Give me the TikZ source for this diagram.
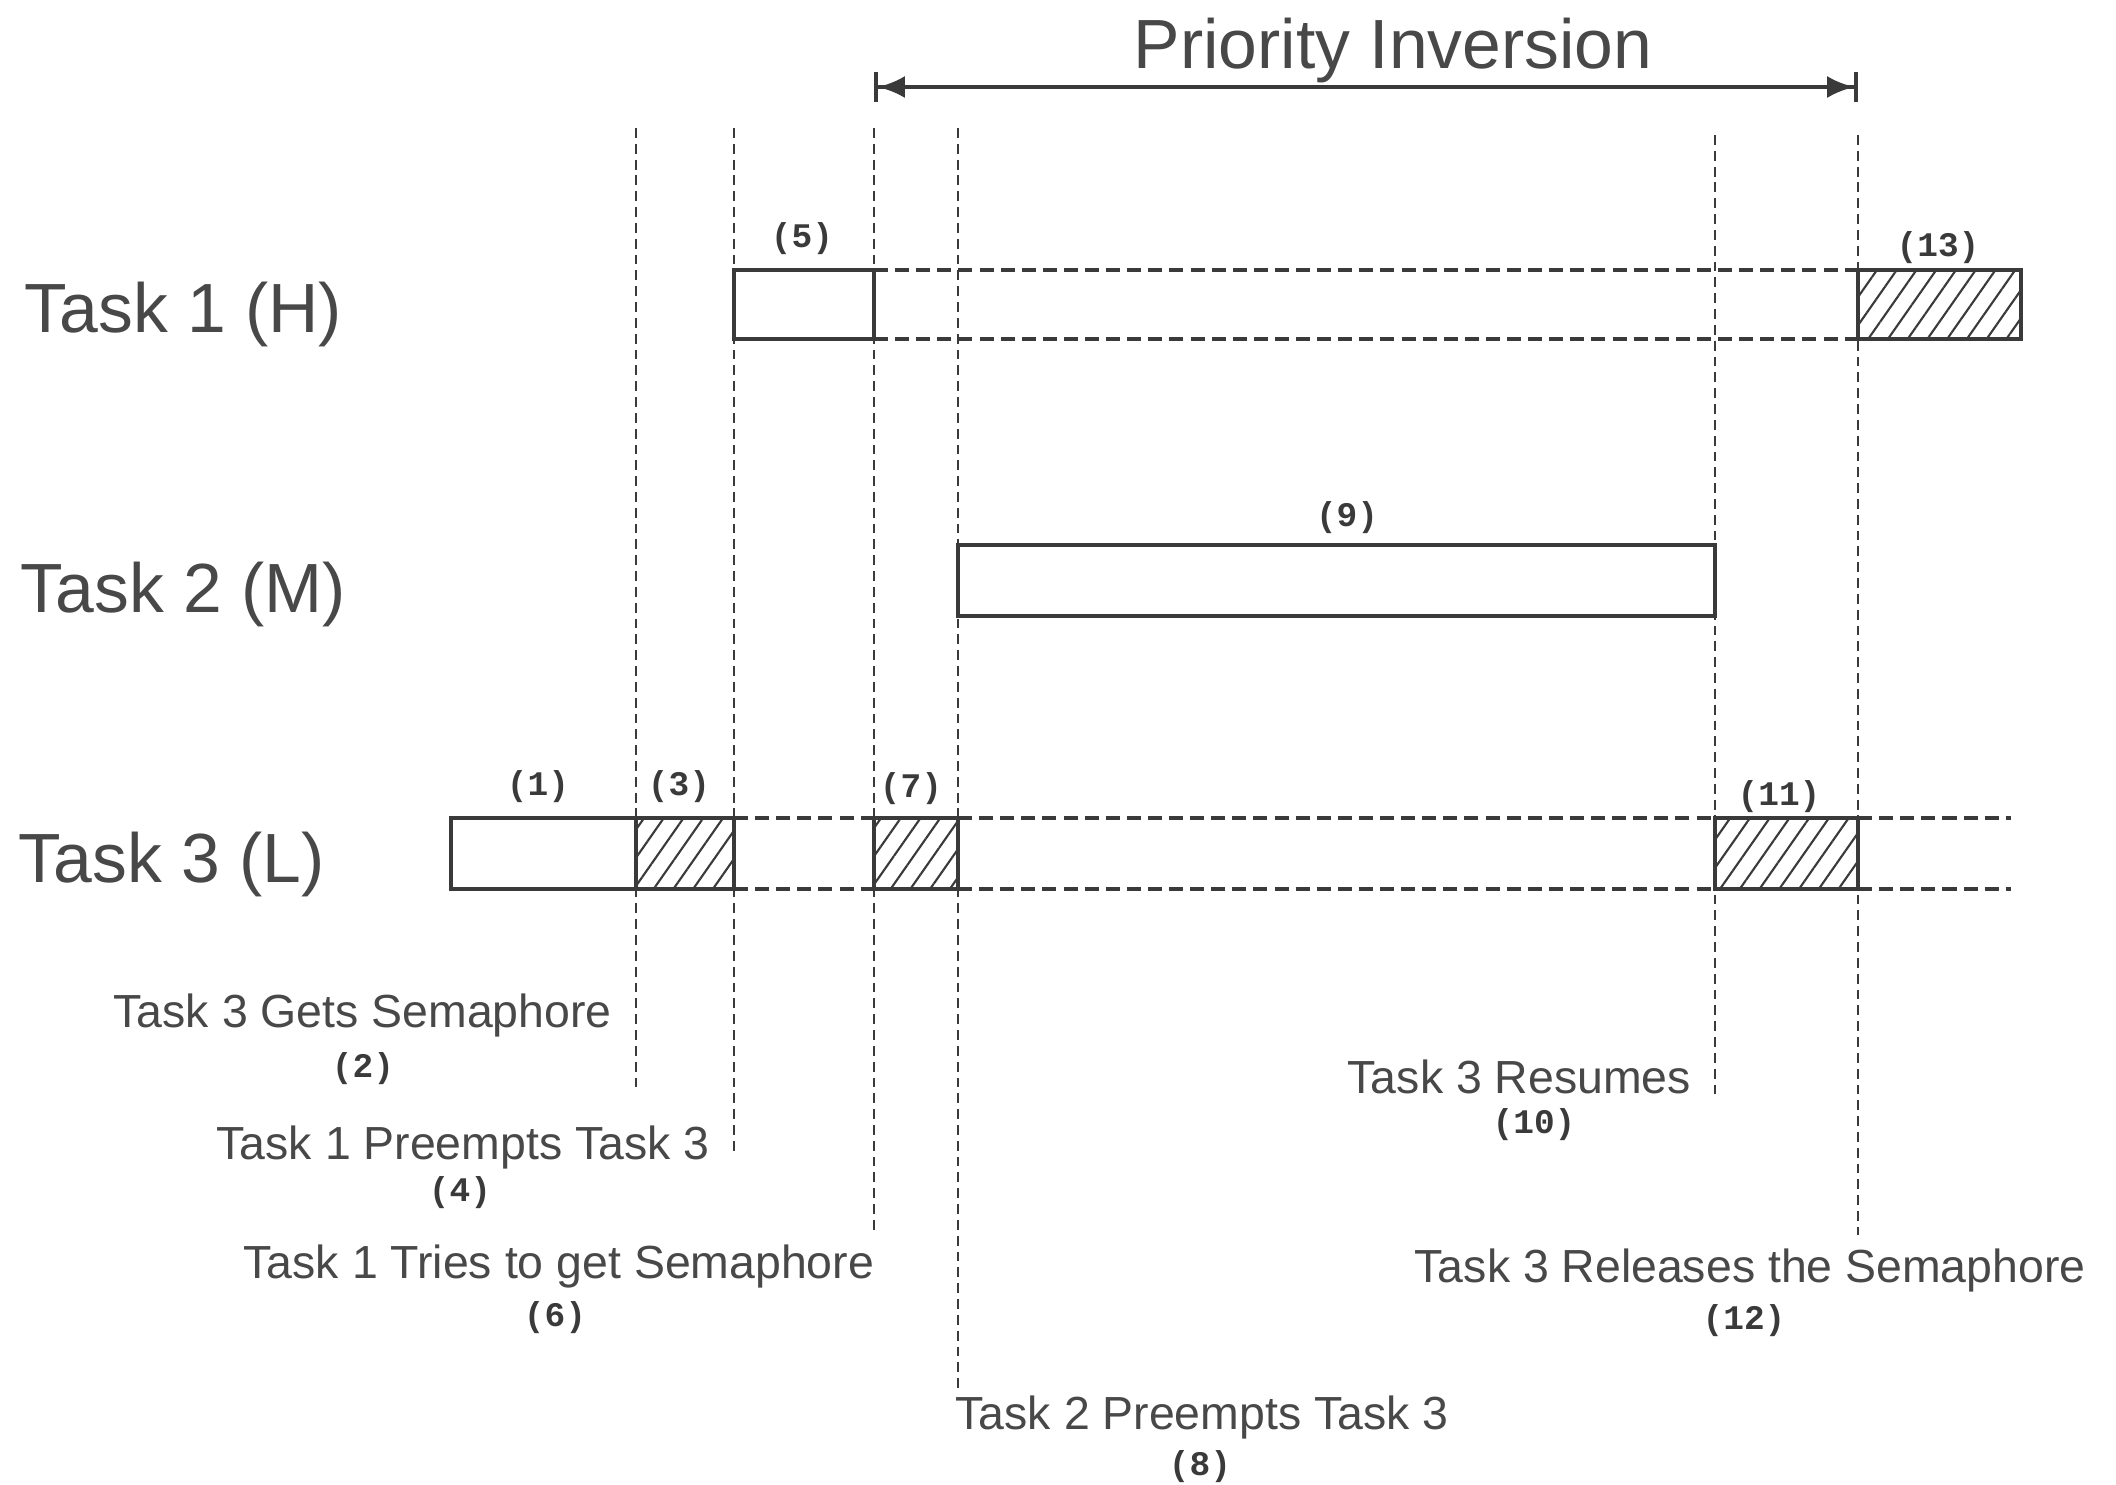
\documentclass[tikz,border=0pt]{standalone}
\usepackage{fontspec}
\setmainfont{Liberation Sans}
\newfontfamily\numfont{Liberation Mono}
\usetikzlibrary{arrows.meta,patterns.meta}
\definecolor{ink}{HTML}{3A3A3A}
\definecolor{txt}{HTML}{484848}
\tikzset{
  tasklabel/.style={anchor=base west, inner sep=0pt, text=txt, font=\fontsize{19.8}{23}\selectfont},
  titlelabel/.style={anchor=base, inner sep=0pt, text=txt, font=\fontsize{19.8}{23}\selectfont},
  evlabel/.style={anchor=base west, inner sep=0pt, text=txt, font=\fontsize{13.2}{15}\selectfont},
  numlabel/.style={inner sep=0pt, text=ink, font=\numfont\bfseries\fontsize{9.8}{11}\selectfont},
  runbox/.style={draw=ink, line width=0.9pt},
  hatchbox/.style={draw=ink, line width=0.9pt, pattern={Lines[angle=55,distance=4.6pt,line width=0.6pt]}, pattern color=ink},
  guide/.style={draw=ink, line width=0.6pt, dash pattern=on 2.8pt off 1.7pt},
  waitline/.style={draw=ink, line width=0.95pt, dash pattern=on 4pt off 2pt},
  spanarrow/.style={draw=ink, line width=1.1pt, {Bar[width=0.3cm]Latex[length=0.27cm,width=0.22cm]}-{Latex[length=0.27cm,width=0.22cm]Bar[width=0.3cm]}},
}
\begin{document}
\begin{tikzpicture}[x=0.01cm,y=-0.01cm]
\useasboundingbox (0,0) rectangle (2116,1484);
\fill[white] (0,0) rectangle (2116,1484);

% time instants (x) and rows (y)
\def\xa{451}\def\xb{636}\def\xc{734}\def\xd{874}\def\xe{958}\def\xf{1715}\def\xg{1858}\def\xh{2021}\def\xi{2011}
\def\ta{270}\def\tb{339}
\def\ma{545}\def\mb{616}
\def\la{818}\def\lb{889}

% vertical guide lines
\draw[guide] (\xb,128) -- (\xb,1090);
\draw[guide] (\xc,128) -- (\xc,1154);
\draw[guide] (\xd,128) -- (\xd,1231);
\draw[guide] (\xe,128) -- (\xe,1390);
\draw[guide] (\xf,135) -- (\xf,1100);
\draw[guide] (\xg,135) -- (\xg,1235);

% Task 1 row
\draw[waitline] (\xd,\ta) -- (\xg,\ta);
\draw[waitline] (\xd,\tb) -- (\xg,\tb);
\draw[runbox] (\xc,\ta) rectangle (\xd,\tb);
\draw[hatchbox] (\xg,\ta) rectangle (\xh,\tb);

% Task 2 row
\draw[runbox] (\xe,\ma) rectangle (\xf,\mb);

% Task 3 row
\draw[waitline] (\xc,\la) -- (\xd,\la);
\draw[waitline] (\xc,\lb) -- (\xd,\lb);
\draw[waitline] (\xe,\la) -- (\xf,\la);
\draw[waitline] (\xe,\lb) -- (\xf,\lb);
\draw[waitline] (\xg,\la) -- (\xi,\la);
\draw[waitline] (\xg,\lb) -- (\xi,\lb);
\draw[runbox] (\xa,\la) rectangle (\xb,\lb);
\draw[hatchbox] (\xb,\la) rectangle (\xc,\lb);
\draw[hatchbox] (\xd,\la) rectangle (\xe,\lb);
\draw[hatchbox] (\xf,\la) rectangle (\xg,\lb);

% priority inversion span
\node[titlelabel] (title) at (1393,68) {Priority Inversion};
\coordinate (piL) at (\xd,87);
\coordinate (piR) at (\xg,87);
\draw[spanarrow] (piL) -- (piR);

% task labels
\node[tasklabel] (t1) at (24,332) {Task 1 (H)};
\node[tasklabel] (t2) at (20,612) {Task 2 (M)};
\node[tasklabel] (t3) at (18,882) {Task 3 (L)};

% segment numbers
\node[numlabel] (n5) at (802,239) {(5)};
\node[numlabel] (n13) at (1938,248) {(13)};
\node[numlabel] (n9) at (1347,518) {(9)};
\node[numlabel] (n1) at (538,787) {(1)};
\node[numlabel] (n3) at (679,787) {(3)};
\node[numlabel] (n7) at (911,789) {(7)};
\node[numlabel] (n11) at (1779,797) {(11)};

% event labels
\node[evlabel] (e2) at (113,1027) {Task 3 Gets Semaphore};
\node[numlabel] (n2) at (363,1069) {(2)};
\node[evlabel] (e4) at (216,1159) {Task 1 Preempts Task 3};
\node[numlabel] (n4) at (460,1193) {(4)};
\node[evlabel] (e6) at (243,1278) {Task 1 Tries to get Semaphore};
\node[numlabel] (n6) at (555,1318) {(6)};
\node[evlabel] (e8) at (955,1429) {Task 2 Preempts Task 3};
\node[numlabel] (n8) at (1200,1467) {(8)};
\node[evlabel] (e10) at (1347,1093) {Task 3 Resumes};
\node[numlabel] (n10) at (1534,1125) {(10)};
\node[evlabel] (e12) at (1414,1282) {Task 3 Releases the Semaphore};
\node[numlabel] (n12) at (1744,1321) {(12)};
\end{tikzpicture}
\end{document}
